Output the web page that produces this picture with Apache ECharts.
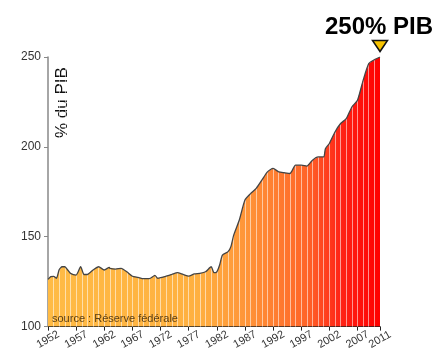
<!DOCTYPE html>
<html lang="fr">
<head>
  <meta charset="UTF-8" />
  <title>Dette totale en % du PIB</title>
  <script src="https://cdn.jsdelivr.net/npm/echarts@6/dist/echarts.min.js"></script>
  <style>
    body { margin: 0; background: #fff; }
    #chart { width: 444px; height: 352px; }
  </style>
</head>
<body>
  <div id="chart"></div>
  <script>
    // années (avec quelques demi-années pour les pics) et valeurs en % du PIB
    const years = [1952, 1952.5, 1953, 1953.5, 1954, 1954.5, 1955, 1955.5, 1956, 1957, 1957.8, 1958.4, 1959,
      1960, 1961, 1962, 1962.9, 1963, 1964, 1965, 1966, 1967, 1968, 1969, 1970, 1971, 1971.5, 1972,
      1973, 1974, 1975, 1976, 1977, 1978, 1979, 1980, 1981, 1981.5, 1982, 1982.5, 1983, 1984, 1984.5,
      1985, 1986, 1987, 1988, 1989, 1990, 1991, 1992, 1993, 1994, 1995, 1996, 1997, 1998, 1999,
      2000, 2001, 2001.3, 2002, 2003, 2004, 2005, 2006, 2007, 2008, 2009, 2010, 2011];
    const pib = [126.3, 127.8, 128, 126.9, 131.8, 133.3, 133.3, 131.5, 129.6, 128.7, 133.3, 129, 129,
      131.5, 133.3, 131.5, 133, 132.4, 132, 132.4, 130.5, 128, 127.4, 126.7, 126.7, 128.5, 126.9, 127.2,
      128.1, 129, 130, 129, 128.1, 129.3, 129.6, 130.5, 133.3, 130, 130.5, 134.3, 139.8, 141.7, 144.5,
      150.9, 159.3, 170.4, 174, 176.9, 181.5, 186.1, 188, 186.1, 185.6, 185.2, 189.8, 189.8, 189.3, 192.6,
      194.4, 194.4, 199, 201.9, 208.3, 213, 215.7, 222.2, 225.9, 237, 246.3, 248.5, 250];
    const stripeYears = [];
    for (let y = 1953; y <= 2010; y++) stripeYears.push(y);

    const fontFamily = '"Liberation Sans", Arial, sans-serif';
    const points = years.map((y, i) => [y, pib[i]]);

    const chart = echarts.init(document.getElementById('chart'));
    chart.setOption({
      animation: false,
      textStyle: { fontFamily: fontFamily },
      title: {
        text: '250% PIB',
        left: 320,
        top: 10,
        textStyle: { fontSize: 24, fontWeight: 'bold', color: '#000', fontFamily: fontFamily }
      },
      grid: { left: 48, right: 64, top: 57, bottom: 25 },
      xAxis: {
        type: 'value',
        min: 1952,
        max: 2011,
        interval: 5,
        axisLine: { lineStyle: { color: '#222', width: 1 } },
        axisTick: { length: 4, lineStyle: { color: '#222' } },
        axisLabel: {
          rotate: 30,
          align: 'center',
          verticalAlign: 'middle',
          margin: 13,
          fontSize: 11,
          color: '#333',
          formatter: v => String(v)
        },
        splitLine: { show: false }
      },
      yAxis: {
        type: 'value',
        min: 100,
        max: 250,
        interval: 50,
        axisLine: { show: true, lineStyle: { color: '#888', width: 1.5 } },
        axisTick: { show: true, length: 4, lineStyle: { color: '#888' } },
        axisLabel: { fontSize: 12, color: '#333', margin: 7 },
        splitLine: { show: false }
      },
      graphic: [
        {
          type: 'text',
          x: 54,
          y: 138,
          rotation: Math.PI / 2,
          style: { text: '% du PIB', fill: '#111', font: '17px ' + fontFamily }
        },
        {
          type: 'text',
          left: 52,
          top: 313,
          z: 100,
          style: { text: 'source : Réserve fédérale', fill: 'rgba(60,40,10,0.85)', font: '11px ' + fontFamily }
        }
      ],
      series: [
        {
          type: 'line',
          data: points,
          symbol: 'none',
          lineStyle: { width: 0 },
          areaStyle: {
            opacity: 1,
            origin: 'start',
            color: new echarts.graphic.LinearGradient(0, 0, 1, 0, [
              { offset: 0, color: '#ffbb45' },
              { offset: 0.45, color: '#ffb040' },
              { offset: 0.6, color: '#ff9438' },
              { offset: 0.78, color: '#ff6428' },
              { offset: 0.88, color: '#ff2416' },
              { offset: 1, color: '#ff0000' }
            ])
          },
          markLine: {
            silent: true,
            symbol: 'none',
            label: { show: false },
            lineStyle: { color: 'rgba(255,255,255,0.55)', width: 1, type: 'solid' },
            data: stripeYears.map(y => ({ xAxis: y }))
          },
          z: 2
        },
        {
          type: 'line',
          data: points,
          symbol: 'none',
          smooth: 0.2,
          lineStyle: { color: '#444', width: 1.3 },
          markPoint: {
            symbol: 'triangle',
            symbolSize: [15, 11],
            symbolRotate: 180,
            symbolOffset: [0, -11],
            itemStyle: { color: '#f7c300', borderColor: '#111', borderWidth: 1.5 },
            label: { show: false },
            data: [{ coord: [2011, 250] }]
          },
          z: 5
        }
      ]
    });
  </script>
</body>
</html>
